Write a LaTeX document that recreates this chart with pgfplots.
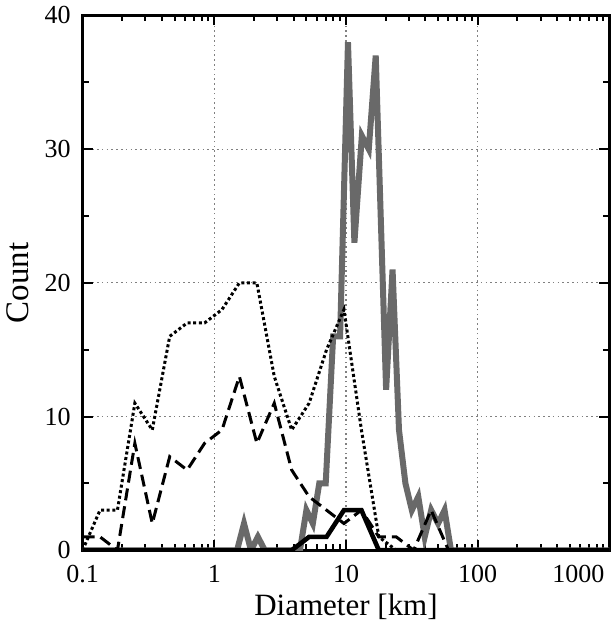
\documentclass[border=0pt]{standalone}
\usepackage{fontspec}
\setmainfont{Liberation Serif}
\usepackage{pgfplots}
\pgfplotsset{compat=1.18}
\definecolor{grayline}{RGB}{105,105,105}
\begin{document}
\begin{tikzpicture}
\begin{axis}[
  scale only axis, width=263.5pt, height=267.5pt,
  xmode=log, xmin=0.1, xmax=1000, ymin=0, ymax=40,
  xtick={0.1,1,10,100}, xticklabels={0.1,1,10,100},
  extra x ticks={1000}, extra x tick labels={1000},
  extra x tick style={grid=none, xticklabel style={anchor=north east, xshift=1pt}},
  minor xtick={0.2,0.3,0.4,0.5,0.6,0.7,0.8,0.9,2,3,4,5,6,7,8,9,20,30,40,50,60,70,80,90,200,300,400,500,600,700,800,900},
  ytick={0,10,20,30,40}, minor ytick={5,15,25,35},
  tick align=inside, xtick pos=both, ytick pos=both,
  major tick length=5pt, minor tick length=3pt,
  every tick/.style={black, line width=1pt},
  axis line style={line width=1.5pt},
  xmajorgrids, ymajorgrids,
  major grid style={gray, line width=0.6pt, dash pattern=on 0.8pt off 1.6pt},
  tick label style={font=\fontsize{13}{15}\selectfont},
  xticklabel style={yshift=-4pt},
  yticklabel style={xshift=-2.5pt},
  /pgf/number format/assume math mode=true,
  xlabel={Diameter [km]}, ylabel={Count},
  xlabel style={font=\fontsize{15.5}{18}\selectfont, yshift=1.5pt},
  ylabel style={font=\fontsize{16.5}{19}\selectfont, yshift=1pt},
]
% gray thick series
\addplot[grayline, line width=3pt, line join=miter] coordinates {
(0.1,0) (1.489,0) (1.681,2) (1.898,0) (2.142,1) (2.418,0) (3.996,0) (4.471,0)
(5.003,3) (5.600,2) (6.266,5) (7.013,5) (7.988,16) (9.016,16) (10.35,38) (11.58,23)
(13.19,31) (14.89,30) (16.81,37) (20.16,12) (22.56,21) (25.25,9) (28.26,5) (31.62,3)
(35.39,4) (39.60,1) (44.33,3) (50.03,2) (56.00,3) (62.66,0) (1000,0)
};
% black thick series
\addplot[black, line width=2.3pt] coordinates {
(0.1,0) (3.869,0) (5.248,1) (7.117,1) (9.649,3) (13.09,3) (17.75,0) (1000,0)
};
% dashed series
\addplot[black, line width=1.5pt, dash pattern=on 6pt off 3pt] coordinates {
(0.1,1) (0.1356,1) (0.1839,0) (0.2493,8) (0.3381,2) (0.4586,7) (0.6220,6) (0.8435,8)
(1.144,9) (1.551,13) (2.104,8) (2.853,11) (3.869,6) (5.248,4) (7.117,3) (9.649,2)
(13.09,3) (17.75,1) (24.07,1) (32.64,0) (44.26,3) (60.02,0) (1000,0)
};
% dotted series
\addplot[black, line width=1.5pt, dash pattern=on 1.5pt off 1.3pt] coordinates {
(0.1,0) (0.1356,3) (0.1839,3) (0.2493,11) (0.3381,9) (0.4586,16) (0.6220,17) (0.8435,17)
(1.144,18) (1.551,20) (2.104,20) (2.853,13) (3.869,9) (5.248,11) (7.117,15) (9.649,18)
(13.09,9) (17.75,1) (24.07,0) (1000,0)
};
\end{axis}
\end{tikzpicture}
\end{document}
